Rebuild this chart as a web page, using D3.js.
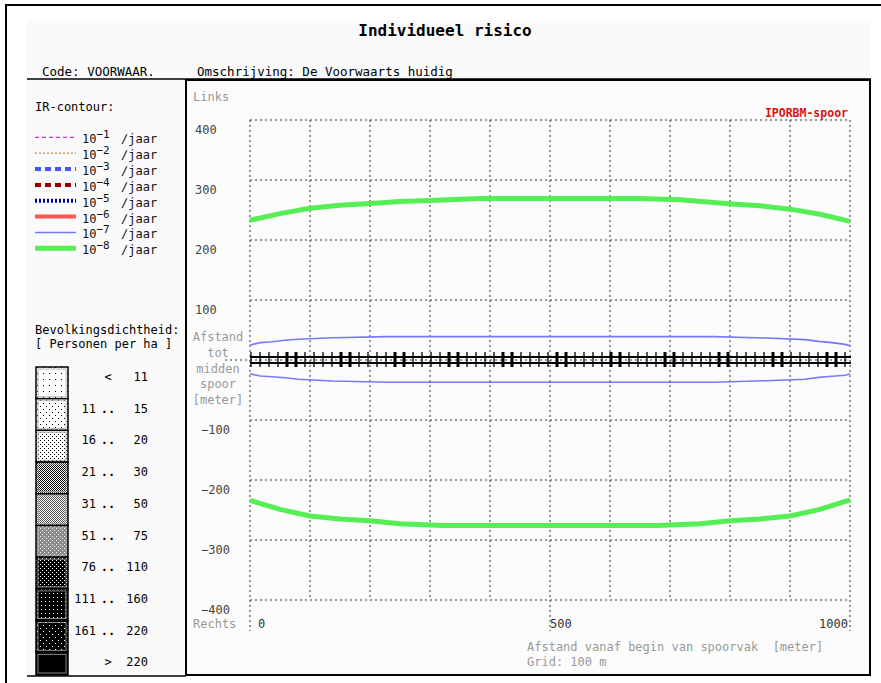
<!DOCTYPE html>
<html>
<head>
<meta charset="utf-8">
<script src="https://cdn.jsdelivr.net/npm/d3@7"></script>
<style>
  body { margin: 0; background: #fff; }
  text { font-family: "DejaVu Sans Mono", monospace; }
</style>
</head>
<body>
<svg id="chart" width="881" height="683"></svg>
<script>
// ---- data ----
var yTicks = [400, 300, 200, 100, -100, -200, -300, -400];
var xTicks = [0, 500, 1000];
var gridX = d3.range(0, 1001, 100);
var gridY = d3.range(-400, 401, 100);

var contourExp = ["\u22121", "\u22122", "\u22123", "\u22124", "\u22125", "\u22126", "\u22127", "\u22128"];
var contourColors = ["#cc33cc", "#cc8844", "#4455ff", "#990000", "#000099", "#ff5555", "#7777ff", "#55ee55"];
var contourWidths = [1.3, 1.2, 4, 4, 4, 4, 1.5, 5];
var contourDash = ["4,3", "2,2", "6,4", "6,4", "2,2", null, null, null];

var densityFrom = ["", "11", "16", "21", "31", "51", "76", "111", "161", ""];
var densitySep = ["<", "..", "..", "..", "..", "..", "..", "..", "..", ">"];
var densityTo = ["11", "15", "20", "30", "50", "75", "110", "160", "220", "220"];

// 10^-8 contour, left side (positive) and right side (negative)
var greenTopX = [0, 50, 100, 150, 200, 250, 300, 383, 650, 717, 803, 850, 903, 950, 1000];
var greenTopY = [233, 244, 253, 258, 261, 264, 266, 269, 269, 267, 260, 257, 251, 243, 231];
var greenBotX = [0, 50, 100, 150, 200, 250, 320, 680, 750, 800, 850, 900, 950, 1000];
var greenBotY = [-234, -249, -260, -265, -268, -273, -276, -276, -273, -268, -265, -260, -249, -233];

// 10^-7 contour
var blueTopX = [0, 17, 37, 58, 80, 138, 230, 772, 860, 925, 948, 970, 992, 1000];
var blueTopY = [25, 29, 30.5, 33, 34.5, 37, 39, 39, 36.7, 34, 31, 29, 26, 24];
var blueBotX = [0, 17, 37, 58, 80, 138, 230, 772, 860, 925, 948, 970, 992, 1000];
var blueBotY = [-23, -26.7, -28, -29.5, -32, -35, -37, -37, -34.5, -32, -29, -27, -25.5, -23];

// ---- layout ----
var svg = d3.select("#chart");
var x = d3.scaleLinear().domain([0, 1000]).range([250, 850]);
var y = d3.scaleLinear().domain([-400, 400]).range([600, 120]);

// backgrounds
svg.append("rect").attr("x", 27).attr("y", 20).attr("width", 843).attr("height", 656).attr("fill", "#fafafa");
// outer frame
svg.append("path").attr("d", "M6,690 L6,5 L881,5").attr("fill", "none").attr("stroke", "#000").attr("stroke-width", 2);

// title + header
svg.append("text").attr("x", 445).attr("y", 36).attr("text-anchor", "middle")
  .attr("font-size", 16).attr("font-weight", "bold").text("Individueel risico");
svg.append("text").attr("x", 42).attr("y", 76).attr("font-size", 12.5).text("Code: VOORWAAR.");
svg.append("text").attr("x", 197).attr("y", 76).attr("font-size", 12.5).text("Omschrijving: De Voorwaarts huidig");
svg.append("line").attr("x1", 27).attr("x2", 871).attr("y1", 79).attr("y2", 79).attr("stroke", "#000").attr("stroke-width", 1.5);

// plot box
svg.append("rect").attr("x", 186).attr("y", 80).attr("width", 684).attr("height", 595)
  .attr("fill", "#fcfcfc").attr("stroke", "#000").attr("stroke-width", 2);
svg.append("line").attr("x1", 27).attr("x2", 186).attr("y1", 676).attr("y2", 676).attr("stroke", "#000").attr("stroke-width", 1.5);

// ---- left legend: IR contours ----
var leg = svg.append("g");
leg.append("text").attr("x", 35).attr("y", 111).attr("font-size", 12).text("IR-contour:");
contourExp.forEach(function(e, i) {
  var ly = 137.3 + i * 15.86;
  leg.append("line").attr("x1", 35).attr("x2", 76).attr("y1", ly).attr("y2", ly)
    .attr("stroke", contourColors[i]).attr("stroke-width", contourWidths[i])
    .attr("stroke-dasharray", contourDash[i]);
  var t = leg.append("text").attr("x", 82).attr("y", ly + 6).attr("font-size", 12).attr("fill", "#111");
  t.append("tspan").text("10");
  t.append("tspan").attr("dy", -5).attr("font-size", 11).text(e);
  t.append("tspan").attr("x", 121).attr("dy", 5).text("\u2215jaar");
});

// ---- left legend: population density ----
var defs = svg.append("defs");
function pat(id, size, bg, fg, dots) {
  var p = defs.append("pattern").attr("id", id).attr("patternUnits", "userSpaceOnUse")
    .attr("width", size).attr("height", size);
  p.append("rect").attr("width", size).attr("height", size).attr("fill", bg);
  dots.forEach(function(d) {
    p.append("rect").attr("x", d[0]).attr("y", d[1]).attr("width", 1).attr("height", 1).attr("fill", fg);
  });
}
pat("p0", 6, "#fff", "#000", [[1, 1]]);
pat("p1", 6, "#fff", "#000", [[1, 1], [4, 4]]);
pat("p2", 4, "#fff", "#000", [[0, 0], [2, 2]]);
pat("p3", 4, "#fff", "#000", [[0, 0], [2, 0], [1, 1], [3, 1], [0, 2], [2, 2], [3, 3], [1, 3]]);
pat("p4", 2, "#fff", "#555", [[0, 0], [1, 1]]);
pat("p5", 4, "#888", "#fff", [[0, 0], [2, 2]]);
pat("p6", 4, "#000", "#fff", [[0, 0], [2, 2]]);
pat("p7", 4, "#000", "#fff", [[1, 1]]);
pat("p8", 6, "#000", "#fff", [[1, 1], [4, 4]]);
pat("p9", 6, "#000", "#000", []);

leg.append("text").attr("x", 35).attr("y", 334).attr("font-size", 12).text("Bevolkingsdichtheid:");
leg.append("text").attr("x", 35).attr("y", 348).attr("font-size", 12).text("[ Personen per ha ]");
var boxY = d3.scaleLinear().domain([0, 1]).range([367, 398.7]);
densityTo.forEach(function(d, i) {
  var top = boxY(i);
  var h = Math.min(31.7, 675 - top);
  leg.append("rect").attr("x", 36).attr("y", top).attr("width", 32).attr("height", h)
    .attr("fill", "url(#p" + i + ")").attr("stroke", "#000").attr("stroke-width", 1.5);
  leg.append("rect").attr("x", 38).attr("y", top + 2).attr("width", 28).attr("height", h - 4)
    .attr("fill", "none").attr("stroke", "#aaa").attr("stroke-width", 0.8);
  leg.append("text").attr("x", 96).attr("y", top + 14).attr("text-anchor", "end").attr("font-size", 12).text(densityFrom[i]);
  leg.append("text").attr("x", 108).attr("y", top + 14).attr("text-anchor", "middle").attr("font-size", 12)
    .attr("font-weight", densitySep[i] === ".." ? "bold" : "normal").text(densitySep[i]);
  leg.append("text").attr("x", 148).attr("y", top + 14).attr("text-anchor", "end").attr("font-size", 12).text(densityTo[i]);
});

// ---- plot ----
var plot = svg.append("g");
var gridStyle = function(s) {
  s.attr("stroke", "#333").attr("stroke-width", 1).attr("stroke-dasharray", "2,3");
};
plot.selectAll("line.gx").data(gridX).enter().append("line").attr("class", "gx")
  .attr("x1", d => x(d)).attr("x2", d => x(d)).attr("y1", y(400)).attr("y2", y(-400)).call(gridStyle);
plot.selectAll("line.gy").data(gridY).enter().append("line").attr("class", "gy")
  .attr("x1", x(0)).attr("x2", x(1000)).attr("y1", d => y(d)).attr("y2", d => y(d)).call(gridStyle);
// tick stubs
plot.append("line").attr("x1", 225).attr("x2", x(0)).attr("y1", y(0)).attr("y2", y(0)).call(gridStyle);
plot.selectAll("line.tx").data(xTicks).enter().append("line").attr("class", "tx")
  .attr("x1", d => x(d)).attr("x2", d => x(d)).attr("y1", y(-400)).attr("y2", 631).call(gridStyle);

// y tick labels
plot.selectAll("text.ty").data(yTicks).enter().append("text").attr("class", "ty")
  .attr("x", d => d < 0 ? 201 : 195).attr("y", d => y(d) + 14).attr("font-size", 12).attr("fill", "#444")
  .text(d => d < 0 ? "\u2212" + Math.abs(d) : d);
plot.append("text").attr("x", 193).attr("y", 101).attr("font-size", 12).attr("fill", "#999").text("Links");
plot.append("text").attr("x", 193).attr("y", 628).attr("font-size", 12).attr("fill", "#999").text("Rechts");
["Afstand", "tot", "midden", "spoor", "[meter]"].forEach(function(s, i) {
  plot.append("text").attr("x", 218).attr("y", 341 + i * 15.8).attr("text-anchor", "middle")
    .attr("font-size", 12).attr("fill", "#999").text(s);
});

// x tick labels
plot.append("text").attr("x", x(0) + 8).attr("y", 628).attr("font-size", 12).attr("fill", "#333").text(xTicks[0]);
plot.append("text").attr("x", x(500)).attr("y", 628).attr("font-size", 12).attr("fill", "#333").text(xTicks[1]);
plot.append("text").attr("x", x(1000) - 2).attr("y", 628).attr("text-anchor", "end").attr("font-size", 12).attr("fill", "#333").text(xTicks[2]);
plot.append("text").attr("x", 527).attr("y", 651).attr("font-size", 12).attr("fill", "#999").attr("xml:space", "preserve")
  .text("Afstand vanaf begin van spoorvak  [meter]");
plot.append("text").attr("x", 527).attr("y", 666).attr("font-size", 12).attr("fill", "#999").text("Grid: 100 m");
plot.append("text").attr("x", 848).attr("y", 117).attr("text-anchor", "end").attr("font-size", 11.5)
  .attr("font-weight", "bold").attr("fill", "#dd1111").text("IPORBM-spoor");

// railway track
var ties = d3.range(0, 1000, 15);
plot.selectAll("line.tie").data(ties).enter().append("line").attr("class", "tie")
  .attr("x1", d => x(d) + 1).attr("x2", d => x(d) + 1).attr("y1", y(0) - 8).attr("y2", y(0) + 7)
  .attr("stroke", "#000").attr("stroke-width", (d, i) => (i % 6 === 4 || i % 6 === 5) ? 3 : 1.3);
[-3, 3].forEach(function(o) {
  plot.append("line").attr("x1", x(0)).attr("x2", x(1000) + 1).attr("y1", y(0) + o).attr("y2", y(0) + o)
    .attr("stroke", "#000").attr("stroke-width", 2);
});

// contours
var line = d3.line().x(d => x(d[0])).y(d => y(d[1]));
function contour(xs, ys, color, w) {
  plot.append("path").datum(d3.zip(xs, ys)).attr("d", line)
    .attr("fill", "none").attr("stroke", color).attr("stroke-width", w);
}
contour(blueTopX, blueTopY, contourColors[6], 1.6);
contour(blueBotX, blueBotY, contourColors[6], 1.6);
contour(greenTopX, greenTopY, contourColors[7], 5);
contour(greenBotX, greenBotY, contourColors[7], 5);
</script>
</body>
</html>
